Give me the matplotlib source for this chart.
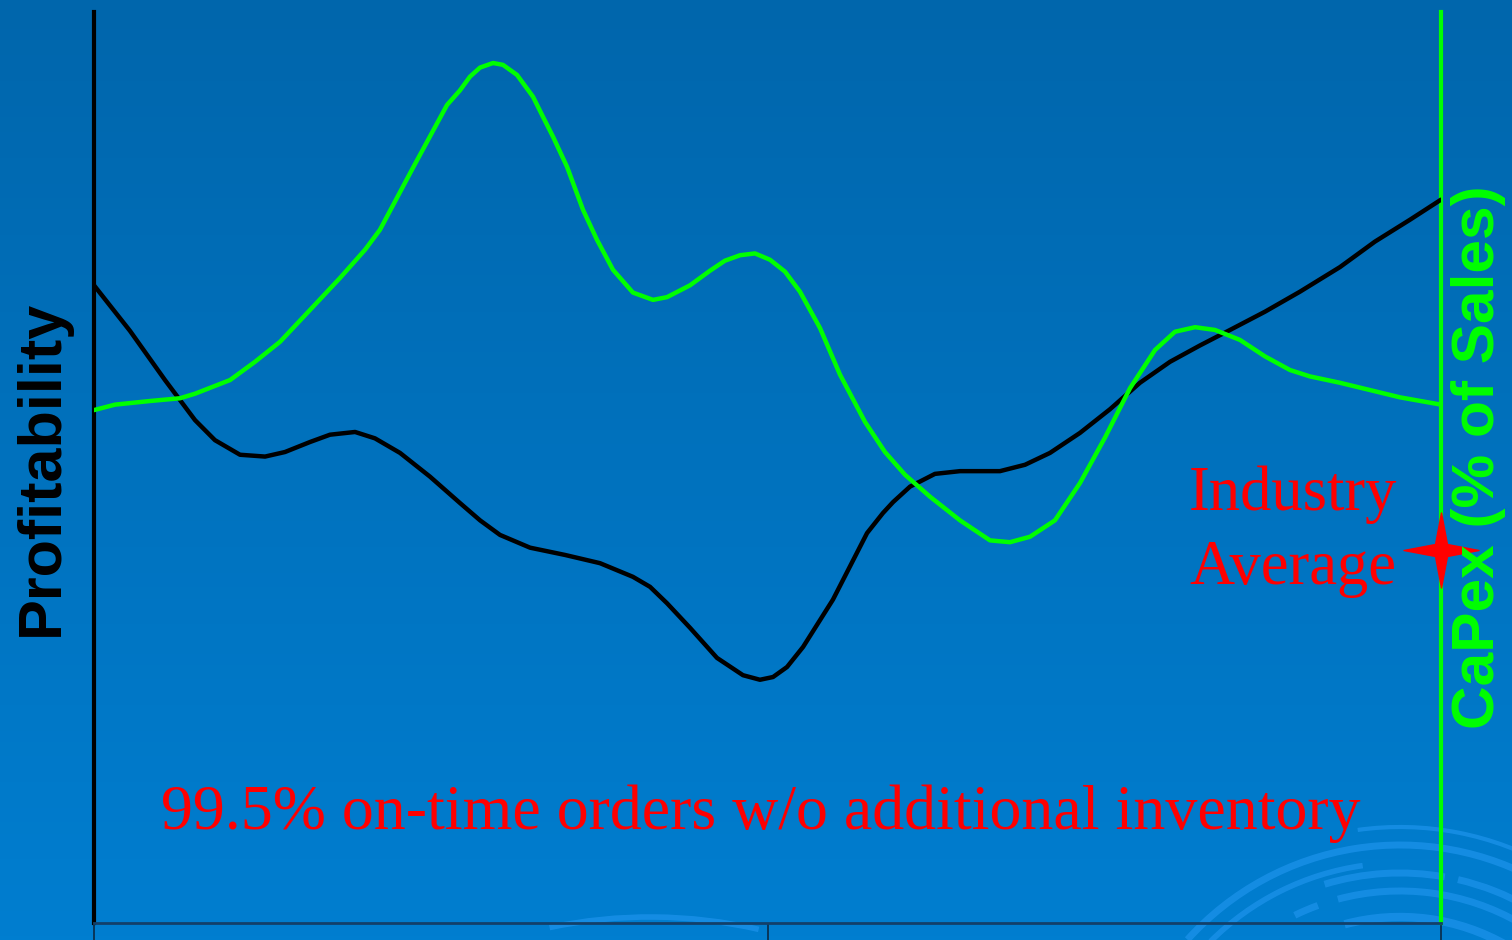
import numpy as np
import matplotlib
matplotlib.use('Agg')
import matplotlib.pyplot as plt
from matplotlib.path import Path
from matplotlib.patches import Arc

# horizontal position runs 0..100 across the plot
prof_x = [0.0, 2.67, 5.27, 7.50, 8.98, 10.84, 12.70, 14.18, 16.04, 17.52,
          19.38, 20.86, 22.72, 24.94, 27.17, 28.66, 30.14, 32.37, 34.97, 37.56,
          40.01, 41.28, 42.54, 44.25, 46.25, 48.18, 49.44, 50.41, 51.45, 52.64,
          54.86, 57.39, 58.57, 59.32, 60.58, 62.43, 64.29, 67.26, 69.12, 70.97,
          73.20, 75.43, 77.65, 79.88, 82.11, 84.34, 86.93, 89.53, 92.50, 95.10,
          97.70, 100.0]
profitability = [70.0, 65.0, 59.6, 55.2, 53.0, 51.4, 51.2, 51.7, 52.8, 53.6,
                 53.9, 53.2, 51.6, 49.0, 46.1, 44.2, 42.6, 41.2, 40.4, 39.5,
                 38.0, 36.9, 35.1, 32.4, 29.1, 27.2, 26.7, 27.0, 28.1, 30.3,
                 35.5, 42.8, 45.0, 46.2, 47.9, 49.3, 49.6, 49.6, 50.3, 51.6,
                 53.8, 56.4, 59.3, 61.6, 63.4, 65.1, 67.1, 69.3, 72.0, 74.8,
                 77.2, 79.4]

capex_x = [0.0, 1.56, 4.16, 6.38, 7.50, 10.10, 11.95, 13.81, 16.04, 18.26,
           20.12, 21.23, 23.68, 26.21, 27.17, 27.91, 28.66, 29.62, 30.36, 31.40,
           32.59, 33.33, 34.08, 35.12, 36.30, 37.34, 38.53, 40.01, 41.50, 42.54,
           44.25, 45.73, 46.84, 47.96, 49.07, 50.19, 51.30, 52.41, 53.90, 55.38,
           57.24, 58.72, 60.21, 62.06, 64.29, 66.52, 68.00, 69.49, 71.34, 73.20,
           75.06, 76.91, 78.77, 80.25, 81.74, 83.22, 85.08, 86.93, 88.79, 90.27,
           92.50, 94.73, 96.96, 100.0]
capex = [56.3, 56.9, 57.3, 57.6, 58.1, 59.6, 61.6, 63.8, 67.3, 70.8,
         73.9, 76.1, 82.9, 89.8, 91.4, 92.9, 93.9, 94.4, 94.2, 93.1,
         90.7, 88.5, 86.3, 83.0, 78.3, 75.0, 71.7, 69.2, 68.4, 68.7,
         70.0, 71.6, 72.7, 73.3, 73.5, 72.8, 71.5, 69.3, 65.3, 60.2,
         55.0, 51.7, 49.2, 46.8, 44.2, 42.0, 41.8, 42.4, 44.2, 48.3,
         53.3, 58.7, 62.9, 64.9, 65.4, 65.1, 64.0, 62.2, 60.7, 60.0,
         59.3, 58.5, 57.7, 56.9]

industry_avg = (100, 40.9)
x_ticks = [0, 50, 100]

fig = plt.figure(figsize=(15.12, 9.4), dpi=100)

# blue gradient backdrop
bg = fig.add_axes([0, 0, 1, 1], zorder=0)
grad = np.linspace(0, 1, 256).reshape(-1, 1)
top = np.array([0, 102, 172]) / 255
bot = np.array([0, 126, 208]) / 255
img = top + (bot - top) * grad[..., None]
bg.imshow(img, aspect='auto', extent=[0, 1512, 940, 0])
bg.set_xlim(0, 1512)
bg.set_ylim(940, 0)
bg.axis('off')

# faint swirl decoration (y axis is flipped here, so 270 deg points up)
swirl = '#1c92ea'
for r, t1, t2, lw in [(286, 222, 300, 5), (268, 225, 262, 4), (304, 262, 300, 3),
                      (258, 253, 280, 5), (258, 283, 300, 5), (240, 244, 250, 5),
                      (240, 255, 300, 5), (214, 255, 300, 6)]:
    bg.add_patch(Arc((1400, 1131), 2 * r, 2 * r, theta1=t1, theta2=t2,
                     color=swirl, lw=lw, alpha=0.75))
bg.add_patch(Arc((650, 1400), 966, 966, theta1=258, theta2=283,
                 color=swirl, lw=4, alpha=0.75))

ax = fig.add_axes([94 / 1512, 17 / 940, 1347 / 1512, 911 / 940], zorder=1)
ax.patch.set_alpha(0)
ax.set_xlim(0, 100)
ax.set_ylim(0, 100)

ax.plot(prof_x, profitability, color='black', lw=3.2, solid_joinstyle='round',
        solid_capstyle='round', zorder=3)
ax.plot(capex_x, capex, color='#00ff00', lw=3.2, solid_joinstyle='round',
        solid_capstyle='round', zorder=3)

# four-pointed star for the industry average
k = 0.16
star = Path([(0, 1), (k, k), (1, 0), (k, -k), (0, -1), (-k, -k), (-1, 0), (-k, k), (0, 1)],
            [Path.MOVETO] + [Path.LINETO] * 7 + [Path.CLOSEPOLY])
ax.plot(*industry_avg, marker=star, markersize=54, color='red', mec='red',
        clip_on=False, zorder=5)

ax.spines['top'].set_visible(False)
ax.spines['left'].set_color('black')
ax.spines['left'].set_linewidth(3)
ax.spines['right'].set_color('#00ff00')
ax.spines['right'].set_linewidth(3)
ax.spines['bottom'].set_color('#12406a')
ax.spines['bottom'].set_linewidth(2)

ax.set_yticks([])
ax.set_xticks(x_ticks)
ax.set_xticklabels([])
ax.tick_params(axis='x', direction='out', length=14, width=1.2, color='#0a2a45')

fig.text(42 / 1512, 1 - 468 / 940, 'Profitability', rotation=90, color='black',
         fontsize=44, fontweight='bold', family='Liberation Sans',
         ha='center', va='center')
fig.text(1478 / 1512, 1 - 457 / 940, 'CaPex (% of Sales)', rotation=90, color='#00ff00',
         fontsize=43.5, fontweight='bold', family='Liberation Sans',
         ha='center', va='center')
fig.text(1293 / 1512, 1 - 532 / 940, 'Industry\nAverage', color='red',
         fontsize=45, family='Liberation Serif', ha='center', va='center',
         linespacing=1.36)
fig.text(761 / 1512, 1 - 814 / 940, '99.5% on-time orders w/o additional inventory',
         color='red', fontsize=46, family='Liberation Serif',
         ha='center', va='center')

fig.savefig('out.png', dpi=100)
